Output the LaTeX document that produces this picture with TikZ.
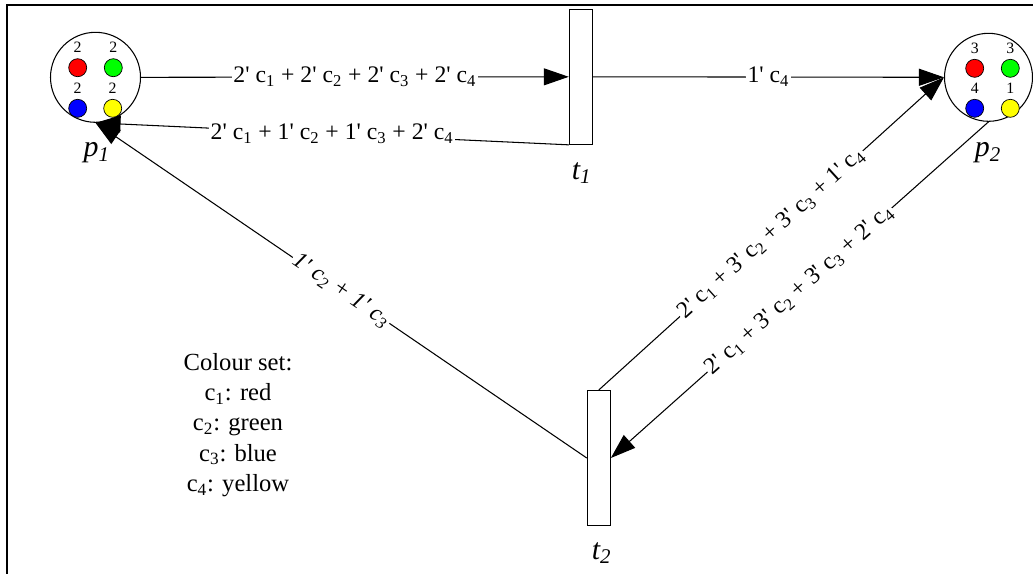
\documentclass[tikz,border=0pt]{standalone}
\usepackage{fontspec}
\setmainfont{Liberation Serif}
\usetikzlibrary{arrows.meta}
\definecolor{tokred}{HTML}{FF0000}
\definecolor{tokgreen}{HTML}{00FF00}
\definecolor{tokblue}{HTML}{0000FF}
\definecolor{tokyellow}{HTML}{FFFF00}
\newcommand\term[2]{#1\textquotesingle{} c\textsubscript{#2}}
\tikzset{every node/.style={font=\fontsize{13.5}{17.2}\selectfont},
 place/.style={circle,draw,line width=.6pt,minimum size=18mm,inner sep=0pt},
 trans/.style={rectangle,draw,line width=.6pt,minimum width=4.6mm,minimum height=27mm,inner sep=0pt},
 token/.style={circle,draw,line width=.4pt,minimum size=3.6mm,inner sep=0pt},
 count/.style={font=\fontsize{9}{10}\selectfont,inner sep=0pt},
 tag/.style={font=\itshape\fontsize{17}{20}\selectfont},
 flow/.style={-{Triangle[length=5mm,width=3.4mm]},line width=.6pt},
 lab/.style={fill=white,inner sep=1pt}}

\begin{document}
\begin{tikzpicture}[x=.2mm,y=-.2mm]

\useasboundingbox (0,0) rectangle (1033,573);
\draw[line width=1.1pt] (7,580) |- (1040,5);

% places and transitions
\node[place] (p1) at (95.5,77.3) {};
\node[place,minimum size=17.6mm] (p2) at (988.5,77.3) {};
\node[trans] (t1) at (580.8,76.8) {};
\node[trans] (t2) at (598.8,458) {};
\node[tag] (p1l) at (96.7,153) {p\textsubscript{1}};
\node[tag] (p2l) at (988,153) {p\textsubscript{2}};
\node[tag] (t1l) at (581.7,173) {t\textsubscript{1}};
\node[tag] (t2l) at (601.7,553) {t\textsubscript{2}};

% tokens
\foreach \n/\x/\y/\c/\k in {a/77.7/67.7/tokred/2,b/113.3/67.7/tokgreen/2,c/77.7/108.3/tokblue/2,d/112.7/108.3/tokyellow/2}{
 \node[token,fill=\c] (p1\n) at (\x,\y) {};
 \node[count] (k1\n) at (\x,{\y-20}) {\k};}
\foreach \n/\x/\y/\c/\k in {a/974.7/68.3/tokred/3,b/1010.3/68.3/tokgreen/3,c/974.7/108.3/tokblue/4,d/1010.3/108.3/tokyellow/1}{
 \node[token,fill=\c] (p2\n) at (\x,\y) {};
 \node[count] (k2\n) at (\x,{\y-20}) {\k};}

% arcs
\draw[flow] (p1.east) -- node[lab] {\term21 + \term22 + \term23 + \term24} (t1.west);
\draw[flow] (t1.south west) -- node[lab] {\term21 + \term12 + \term13 + \term24} (p1.south);
\draw[flow] (t1.east) -- node[lab] {\term14} (p2.west);
\draw[flow] (t2.north) -- node[lab,sloped] {\term21 + \term32 + \term33 + \term14} (p2.west);
\draw[flow] (p2.south) -- node[lab,sloped] {\term21 + \term32 + \term33 + \term24} (t2.east);
\draw[flow] (t2.west) -- node[lab,sloped] {\itshape\term12 + \term13} (p1.south);

\node[align=center,font=\fontsize{14}{17.2}\selectfont] (key) at (238,425) {Colour set:\\c\textsubscript{1}: red\\c\textsubscript{2}: green\\c\textsubscript{3}: blue\\c\textsubscript{4}: yellow};

\end{tikzpicture}
\end{document}
